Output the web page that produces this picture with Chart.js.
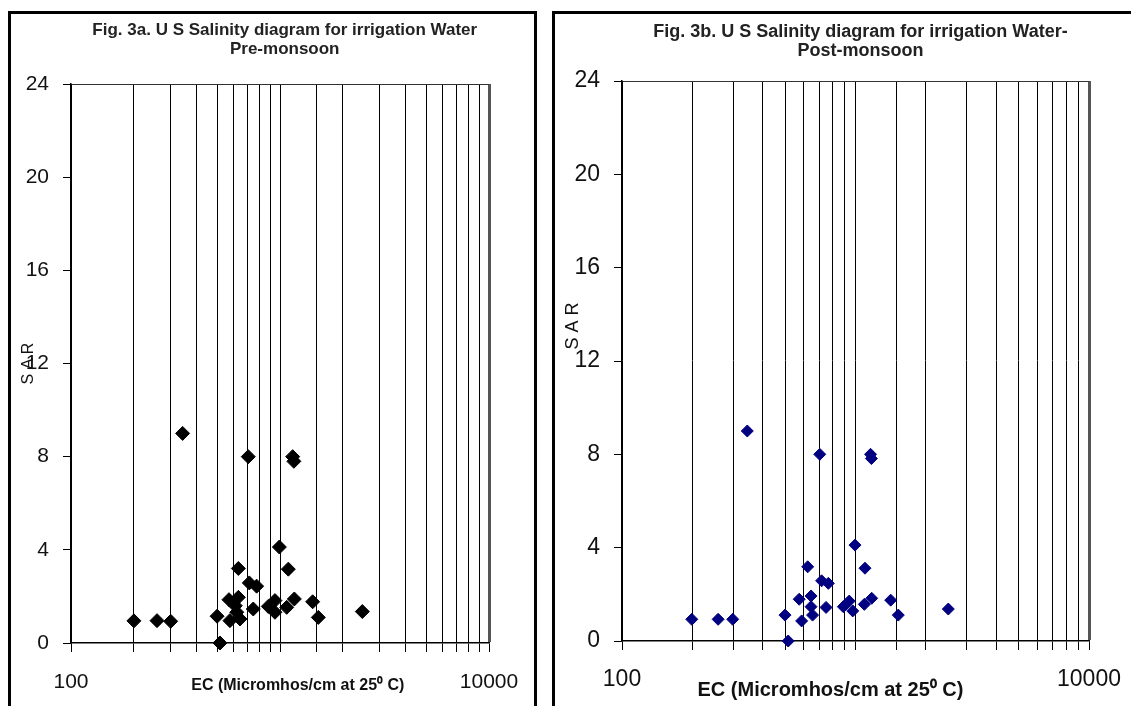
<!DOCTYPE html>
<html>
<head>
<meta charset="utf-8">
<title>US Salinity diagram</title>
<script src="https://cdn.jsdelivr.net/npm/chart.js@4.4.0/dist/chart.umd.min.js"></script>
<style>
  html, body { margin: 0; padding: 0; background: #fff; width: 1131px; height: 706px; overflow: hidden; }
  .box { position: absolute; border: 3px solid #000; border-bottom: none; box-sizing: border-box; background: #fff; }
  #boxA { left: 8px; top: 11px; width: 529px; height: 720px; }
  #boxB { left: 552px; top: 11px; width: 600px; height: 720px; }
  canvas { position: absolute; left: 0; top: 0; }
</style>
</head>
<body>
<div class="box" id="boxA"><canvas id="chartPre" width="523" height="692"></canvas></div>
<div class="box" id="boxB"><canvas id="chartPost" width="576" height="692"></canvas></div>

<script>
// -----------------------------
// Data
// -----------------------------
const ecPre  = [200, 258, 300, 342, 500, 516, 576, 570, 632, 621, 632, 644, 611, 705, 713, 773, 745, 879, 946, 946, 993, 1096, 1077, 1171, 1150, 1165, 1433, 1525, 2477];
const sarPre = [0.95, 0.96, 0.93, 9.0, 1.15, 0, 0.96, 1.86, 3.2, 1.32, 1.96, 1.03, 1.6, 8.0, 2.58, 2.44, 1.46, 1.57, 1.82, 1.32, 4.12, 3.17, 1.53, 1.89, 8.0, 7.8, 1.77, 1.1, 1.35];

const ecPost  = [199, 258, 298, 344, 499, 515, 574, 588, 624, 645, 645, 655, 703, 716, 765, 748, 887, 940, 973, 995, 1098, 1091, 1173, 1160, 1170, 1415, 1525, 2497];
const sarPost = [0.93, 0.93, 0.93, 9.0, 1.11, 0, 1.79, 0.86, 3.18, 1.93, 1.47, 1.11, 8.0, 2.58, 2.47, 1.44, 1.47, 1.71, 1.29, 4.11, 3.12, 1.57, 1.83, 8.0, 7.82, 1.75, 1.11, 1.37];

const xLabelled = [100, 10000];   // only these EC ticks carry a label
const sarMin = 0, sarMax = 24, sarStep = 4;

// leading spaces nudge the centred text a little to the right, as in the figure
const titlePre  = ['  Fig. 3a. U S Salinity diagram for irrigation Water', '  Pre-monsoon'];
const titlePost = ['  Fig. 3b. U S Salinity diagram for irrigation Water-', '  Post-monsoon'];
const xTitle = 'EC (Micromhos/cm at 25\u2070 C)';

const FONT = 'Liberation Sans, Arial, Helvetica, sans-serif';

// -----------------------------
// Chart builder
// -----------------------------
function makeChart(id, ec, sar, o) {
  const ctx = document.getElementById(id).getContext('2d');
  return new Chart(ctx, {
    type: 'scatter',
    data: {
      datasets: [{
        data: ec.map((x, i) => ({x: x, y: sar[i]})),
        pointStyle: 'rectRot',
        pointRadius: o.radius,
        pointHoverRadius: o.radius,
        backgroundColor: o.color,
        borderColor: o.color,
        borderWidth: 1,
        clip: false
      }]
    },
    options: {
      responsive: false,
      animation: false,
      layout: {padding: {left: 0, right: o.padRight, top: 0, bottom: 0}},
      plugins: {
        legend: {display: false},
        tooltip: {enabled: false},
        title: {
          display: true,
          text: o.title,
          fullSize: false,
          color: '#222',
          font: {family: FONT, size: o.titleSize, weight: 'bold', lineHeight: '19px'},
          padding: {top: o.titleTop, bottom: o.titleBottom}
        }
      },
      scales: {
        x: {
          type: 'logarithmic',
          min: 100,
          max: 10000,
          afterFit: s => { s.height = o.xHeight; },
          ticks: {
            autoSkip: false,
            maxRotation: 0,
            color: '#111',
            padding: 4,
            font: {family: FONT, size: o.tickSize, lineHeight: o.xTickLH},
            callback: v => xLabelled.includes(v) ? String(v) : ''
          },
          grid: {
            color: c => (c.tick && c.tick.value === 10000) ? '#555' : '#000',
            lineWidth: c => (c.tick && c.tick.value === 10000) ? 3 : 1,
            tickColor: '#000',
            tickWidth: 1,
            tickLength: 9
          },
          border: {color: '#000', width: 1.5},
          title: {
            display: true,
            text: o.xTitle,
            color: '#111',
            font: {family: FONT, size: o.xTitleSize, weight: 'bold', lineHeight: 1.2},
            padding: {top: 0, bottom: o.xTitleBottom}
          }
        },
        y: {
          min: sarMin,
          max: sarMax,
          afterFit: s => { s.width = o.yWidth; },
          ticks: {
            stepSize: sarStep,
            color: '#111',
            padding: 14,
            font: {family: FONT, size: o.tickSize}
          },
          grid: {
            color: c => (c.tick && c.tick.value === sarMax) ? '#333' : 'rgba(0,0,0,0)',
            tickColor: '#000',
            tickWidth: 1,
            tickLength: 8
          },
          border: {color: '#000', width: 1.5},
          title: {
            display: true,
            text: o.yTitle,
            color: '#111',
            font: {family: FONT, size: o.yTitleSize, lineHeight: 1.2},
            padding: {top: o.yTitlePad, bottom: 0}
          }
        }
      }
    }
  });
}

makeChart('chartPre', ecPre, sarPre, {
  radius: 7, color: '#000',
  padRight: 45, yWidth: 60, xHeight: 63,
  title: titlePre, titleSize: 17, titleTop: 7, titleBottom: 25,
  tickSize: 21, xTickLH: '52px',
  xTitle: '        ' + xTitle, xTitleSize: 16, xTitleBottom: 11,
  yTitle: 'S A R', yTitleSize: 16, yTitlePad: 8
});

makeChart('chartPost', ecPost, sarPost, {
  radius: 6, color: '#000080',
  padRight: 42, yWidth: 67, xHeight: 65,
  title: titlePost, titleSize: 18, titleTop: 8.5, titleBottom: 20.5,
  tickSize: 23, xTickLH: '52px',
  xTitle: xTitle + '         ', xTitleSize: 20, xTitleBottom: 4,
  yTitle: '              S A R', yTitleSize: 18, yTitlePad: 7
});
</script>
</body>
</html>
